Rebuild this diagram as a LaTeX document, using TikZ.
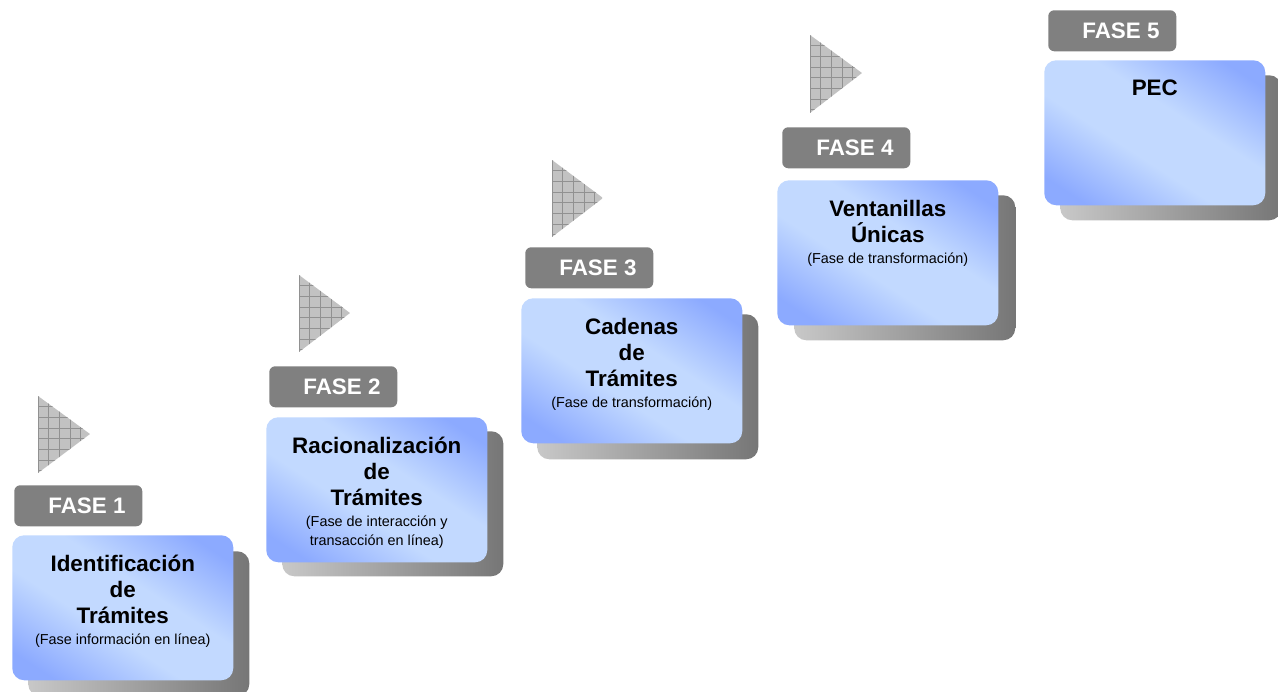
\documentclass[tikz,border=0pt]{standalone}
\usepackage{fontspec}
\setmainfont{Liberation Sans}
\usetikzlibrary{positioning}

\definecolor{faseGray}{RGB}{128,128,128}
\definecolor{boxLight}{RGB}{194,217,255}
\definecolor{boxDark}{RGB}{140,170,255}
\definecolor{shadowLight}{RGB}{200,200,200}
\definecolor{shadowDark}{RGB}{118,118,118}
\definecolor{triFill}{RGB}{194,194,194}
\definecolor{triLine}{RGB}{145,145,145}

\pgfdeclareverticalshading{phaseshade}{100bp}{color(0bp)=(boxDark); color(22bp)=(boxDark);
  color(42bp)=(boxLight); color(58bp)=(boxLight); color(78bp)=(boxDark); color(100bp)=(boxDark)}

\newcommand{\phasefont}{\fontsize{16.8}{19.5}\selectfont\bfseries}
\newcommand{\notefont}{\fontsize{10.8}{14.25}\selectfont\mdseries}

\tikzset{
  mainbox/.style={rounded corners=9pt, minimum width=165.75pt, minimum height=108.75pt,
    inner sep=0pt, shading=phaseshade, shading angle=-33},
  shadowbox/.style={rounded corners=9pt, minimum width=165.75pt, minimum height=108.75pt,
    inner sep=0pt, left color=shadowLight, right color=shadowDark},
  fasebox/.style={fill=faseGray, rounded corners=4.5pt, minimum width=96pt,
    minimum height=30.75pt, inner sep=0pt, text=white, font=\phasefont,
    execute at begin node={\hspace*{13pt}}},
  phasetext/.style={inner sep=0pt, align=center, font=\phasefont},
  trifill/.style={fill=triFill},
  trigrid/.style={draw=triLine, line width=0.45pt, step=8pt},
}

\begin{document}
\begin{tikzpicture}[x=0.75pt,y=0.75pt,yscale=-1,xscale=1]
\path[use as bounding box] (0,0) rectangle (1278,692);

%Shape: Triangle [id:fase1]
\begin{scope}
\clip (38,396) -- (90,434) -- (38,473) -- cycle;
\fill[trifill] (38,396) rectangle (90,473);
\draw[trigrid, shift={(38,396)}] (0,0) grid (52,77);
\end{scope}
%Shape: Triangle [id:fase2]
\begin{scope}
\clip (299,275) -- (350,313) -- (299,352) -- cycle;
\fill[trifill] (299,275) rectangle (350,352);
\draw[trigrid, shift={(299,275)}] (0,0) grid (51,77);
\end{scope}
%Shape: Triangle [id:fase3]
\begin{scope}
\clip (552,160) -- (603,198) -- (552,237) -- cycle;
\fill[trifill] (552,160) rectangle (603,237);
\draw[trigrid, shift={(552,160)}] (0,0) grid (51,77);
\end{scope}
%Shape: Triangle [id:fase4]
\begin{scope}
\clip (810,35) -- (862,73) -- (810,113) -- cycle;
\fill[trifill] (810,35) rectangle (862,113);
\draw[trigrid, shift={(810,35)}] (0,0) grid (52,78);
\end{scope}

% FASE 1
\node[fasebox, anchor=north west] (f1) at (14,485) {FASE 1};
\node[shadowbox, anchor=north west] (s1) at (28,551) {};
\node[mainbox, anchor=north west] (b1) at (12,535) {};
\node[phasetext, below=15pt of b1.north] (t1) {Identificación\\de\\Trámites\\[-3.75pt]{\notefont (Fase información en línea)}};

% FASE 2
\node[fasebox, anchor=north west] (f2) at (269,366) {FASE 2};
\node[shadowbox, anchor=north west] (s2) at (282,431) {};
\node[mainbox, anchor=north west] (b2) at (266,417) {};
\node[phasetext, below=15pt of b2.north] (t2) {Racionalización\\de\\Trámites\\[-3.75pt]{\notefont (Fase de interacción y}\\[-5.25pt]{\notefont transacción en línea)}};

% FASE 3
\node[fasebox, anchor=north west] (f3) at (525,247) {FASE 3};
\node[shadowbox, anchor=north west] (s3) at (537,314) {};
\node[mainbox, anchor=north west] (b3) at (521,298) {};
\node[phasetext, below=15pt of b3.north] (t3) {Cadenas\\de\\Trámites\\[-3.75pt]{\notefont (Fase de transformación)}};

% FASE 4
\node[fasebox, anchor=north west] (f4) at (782,127) {FASE 4};
\node[shadowbox, anchor=north west] (s4) at (794,195) {};
\node[mainbox, anchor=north west] (b4) at (777,180) {};
\node[phasetext, below=15pt of b4.north] (t4) {Ventanillas\\Únicas\\[-3.75pt]{\notefont (Fase de transformación)}};

% FASE 5
\node[fasebox, anchor=north west] (f5) at (1048,10) {FASE 5};
\node[shadowbox, anchor=north west] (s5) at (1060,75) {};
\node[mainbox, anchor=north west] (b5) at (1044,60) {};
\node[phasetext, below=15pt of b5.north] (t5) {PEC};

\end{tikzpicture}
\end{document}
